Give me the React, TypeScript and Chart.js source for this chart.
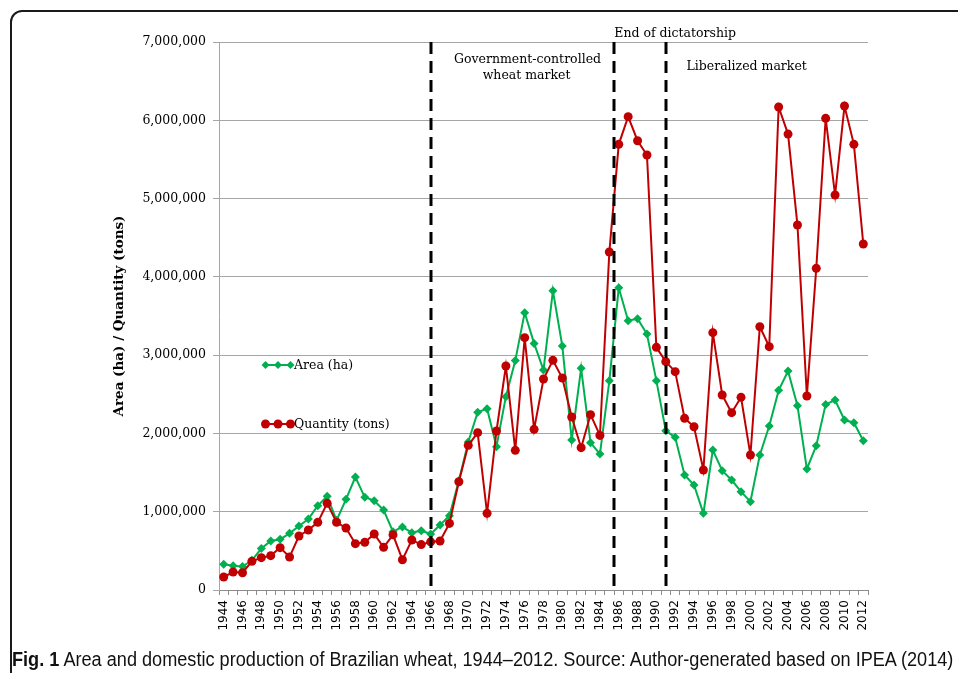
import React, { useEffect, useRef } from "react";
import { Chart, registerables } from "chart.js";

Chart.register(...registerables);

const years = [
  "1944", "1945", "1946", "1947", "1948", "1949", "1950", "1951", "1952", "1953",
  "1954", "1955", "1956", "1957", "1958", "1959", "1960", "1961", "1962", "1963",
  "1964", "1965", "1966", "1967", "1968", "1969", "1970", "1971", "1972", "1973",
  "1974", "1975", "1976", "1977", "1978", "1979", "1980", "1981", "1982", "1983",
  "1984", "1985", "1986", "1987", "1988", "1989", "1990", "1991", "1992", "1993",
  "1994", "1995", "1996", "1997", "1998", "1999", "2000", "2001", "2002", "2003",
  "2004", "2005", "2006", "2007", "2008", "2009", "2010", "2011", "2012",
];

const areaHa = [
  330000, 310000, 300000, 380000, 530000, 626000, 647000, 724000, 817000, 907000,
  1077000, 1197000, 890000, 1158000, 1443000, 1184000, 1141000, 1022000, 745000, 805000,
  732000, 758000, 715000, 830000, 949000, 1397000, 1890000, 2270000, 2316000, 1831000,
  2470000, 2930000, 3543000, 3150000, 2810000, 3823000, 3117000, 1916000, 2831000, 1882000,
  1737000, 2672000, 3860000, 3440000, 3466000, 3270000, 2674000, 2035000, 1950000, 1469000,
  1341000, 979000, 1788000, 1524000, 1405000, 1256000, 1128000, 1724000, 2095000, 2550000,
  2797000, 2354000, 1546000, 1844000, 2371000, 2427000, 2171000, 2137000, 1907000,
];

const quantityTons = [
  166000, 230000, 221000, 366000, 413000, 439000, 541000, 421000, 690000, 766000,
  864000, 1107000, 864000, 792000, 592000, 609000, 715000, 545000, 705000, 387000,
  639000, 580000, 615000, 626000, 851000, 1383000, 1848000, 2010000, 979000, 2031000,
  2861000, 1784000, 3223000, 2052000, 2695000, 2934000, 2708000, 2210000, 1818000, 2240000,
  1975000, 4317000, 5693000, 6046000, 5739000, 5556000, 3100000, 2917000, 2789000, 2193000,
  2086000, 1533000, 3287000, 2491000, 2265000, 2461000, 1724000, 3363000, 3108000, 6170000,
  5824000, 4662000, 2478000, 4109000, 6025000, 5045000, 6182000, 5693000, 4419000,
];

const yMin = 0;
const yMax = 7000000;
const yStep = 1000000;

// dividers between policy periods (in years)
const periodDividers = [1966, 1985.5, 1991];

// period labels: text, centre year, value level
const periodLabels = [
  { text: "End of dictatorship", year: 1992.0, value: 7110000 },
  { text: "Government-controlled", year: 1976.3, value: 6770000 },
  { text: "wheat market", year: 1976.2, value: 6565000 },
  { text: "Liberalized market", year: 1999.6, value: 6690000 },
];

const legendItems = [
  { label: "Area (ha)", color: "#00b050", style: "diamond", y: 365 },
  { label: "Quantity (tons)", color: "#c00000", style: "circle", y: 424 },
];

const yTitle = "Area (ha) / Quantity (tons)";
const captionBold = "Fig. 1";
const captionText =
  " Area and domestic production of Brazilian wheat, 1944\u20132012. Source: Author-generated based on IPEA (2014)";

const SERIF = "'DejaVu Serif', 'Liberation Serif', serif";

const overlayPlugin = {
  id: "overlay",
  afterDatasetsDraw(chart: any) {
    const { ctx, chartArea, scales } = chart;
    const xs = scales.x;
    const ys = scales.y;
    const first = Number(years[0]);
    ctx.save();
    // dashed dividers
    ctx.strokeStyle = "#000";
    ctx.lineWidth = 3;
    ctx.setLineDash([12, 7]);
    periodDividers.forEach((yr) => {
      const x = Math.round(xs.getPixelForValue(yr - first));
      ctx.beginPath();
      ctx.moveTo(x, chartArea.top);
      ctx.lineTo(x, chartArea.bottom);
      ctx.stroke();
    });
    ctx.setLineDash([]);
    // period labels
    ctx.fillStyle = "#000";
    ctx.font = `12.5px ${SERIF}`;
    ctx.textAlign = "center";
    ctx.textBaseline = "middle";
    periodLabels.forEach((p) => {
      ctx.fillText(p.text, xs.getPixelForValue(p.year - first), ys.getPixelForValue(p.value));
    });
    // legend
    legendItems.forEach((it) => {
      ctx.strokeStyle = it.color;
      ctx.fillStyle = it.color;
      ctx.lineWidth = 2;
      ctx.beginPath();
      ctx.moveTo(264, it.y);
      ctx.lineTo(291, it.y);
      ctx.stroke();
      [265.5, 278, 290.5].forEach((mx) => {
        ctx.beginPath();
        if (it.style === "diamond") {
          const r = 4;
          ctx.moveTo(mx, it.y - r);
          ctx.lineTo(mx + r, it.y);
          ctx.lineTo(mx, it.y + r);
          ctx.lineTo(mx - r, it.y);
          ctx.closePath();
        } else {
          ctx.arc(mx, it.y, 4.5, 0, Math.PI * 2);
        }
        ctx.fill();
      });
      ctx.fillStyle = "#000";
      ctx.font = `12.5px ${SERIF}`;
      ctx.textAlign = "left";
      ctx.fillText(it.label, 294, it.y + 1);
    });
    // y-axis title
    ctx.save();
    ctx.translate(119, (chartArea.top + chartArea.bottom) / 2);
    ctx.rotate(-Math.PI / 2);
    ctx.font = `bold 13.5px ${SERIF}`;
    ctx.textAlign = "center";
    ctx.textBaseline = "middle";
    ctx.fillStyle = "#000";
    ctx.fillText(yTitle, 0, 0);
    ctx.restore();
    ctx.restore();
  },
};

export default function App() {
  const canvasRef = useRef<HTMLCanvasElement | null>(null);
  const capRef = useRef<HTMLDivElement | null>(null);

  useEffect(() => {
    const canvas = canvasRef.current;
    if (!canvas) return;
    const chart = new Chart(canvas, {
      type: "line",
      data: {
        labels: years,
        datasets: [
          {
            label: "Quantity (tons)",
            data: quantityTons,
            borderColor: "#c00000",
            backgroundColor: "#c00000",
            borderWidth: 2,
            pointStyle: "circle",
            pointRadius: 4.5,
            pointBorderWidth: 0,
            tension: 0,
            order: 0,
          },
          {
            label: "Area (ha)",
            data: areaHa,
            borderColor: "#00b050",
            backgroundColor: "#00b050",
            borderWidth: 2,
            pointStyle: "rectRot",
            pointRadius: 4.5,
            pointBorderWidth: 0,
            tension: 0,
            order: 1,
          },
        ],
      },
      options: {
        responsive: false,
        animation: false,
        layout: { padding: { top: 42, right: 90, left: 0, bottom: 0 } },
        plugins: { legend: { display: false }, tooltip: { enabled: false } },
        scales: {
          x: {
            type: "category",
            offset: true,
            grid: {
              display: true,
              drawOnChartArea: false,
              drawTicks: true,
              tickLength: 5,
              color: "#8c8c8c",
              offset: true,
            },
            border: { display: true, color: "#8c8c8c" },
            ticks: {
              autoSkip: false,
              maxRotation: 90,
              minRotation: 90,
              padding: 5,
              color: "#000",
              font: { family: "'DejaVu Sans', sans-serif", size: 12 },
              callback: (_v: any, i: number) => (i % 2 === 0 ? years[i] : ""),
            },
            afterFit: (s: any) => {
              s.height = 60;
            },
          },
          y: {
            min: yMin,
            max: yMax,
            grid: { color: "#a6a6a6", tickLength: 6, drawTicks: true },
            border: { display: true, color: "#a6a6a6" },
            ticks: {
              stepSize: yStep,
              padding: 7,
              color: "#000",
              font: { family: SERIF, size: 12.5 },
              callback: (v: any) => Number(v).toLocaleString("en-US"),
            },
            afterFit: (s: any) => {
              s.width = 219;
            },
          },
        },
      },
      plugins: [overlayPlugin],
    });

    const cap = capRef.current;
    if (cap) {
      cap.style.transform = "none";
      const w = cap.scrollWidth;
      if (w > 0) cap.style.transform = `scaleX(${941 / w})`;
    }
    return () => chart.destroy();
  }, []);

  return (
    <div
      style={{
        position: "fixed",
        left: 0,
        top: 0,
        width: 958,
        height: 673,
        overflow: "hidden",
        background: "#fff",
      }}
    >
      <div
        style={{
          position: "absolute",
          left: 10,
          top: 10,
          width: 1100,
          height: 800,
          border: "2px solid #1a1a1a",
          borderRadius: 12,
          boxSizing: "border-box",
        }}
      />
      <canvas
        ref={canvasRef}
        width={958}
        height={650}
        style={{ position: "absolute", left: 0, top: 0, width: 958, height: 650 }}
      />
      <div
        ref={capRef}
        style={{
          position: "absolute",
          left: 12,
          top: 648,
          whiteSpace: "nowrap",
          display: "inline-block",
          transformOrigin: "left top",
          fontFamily: "'Liberation Sans Narrow', 'Liberation Sans', Arial, sans-serif",
          fontSize: 20,
          lineHeight: "22px",
          color: "#111",
        }}
      >
        <b>{captionBold}</b>
        {captionText}
      </div>
    </div>
  );
}
